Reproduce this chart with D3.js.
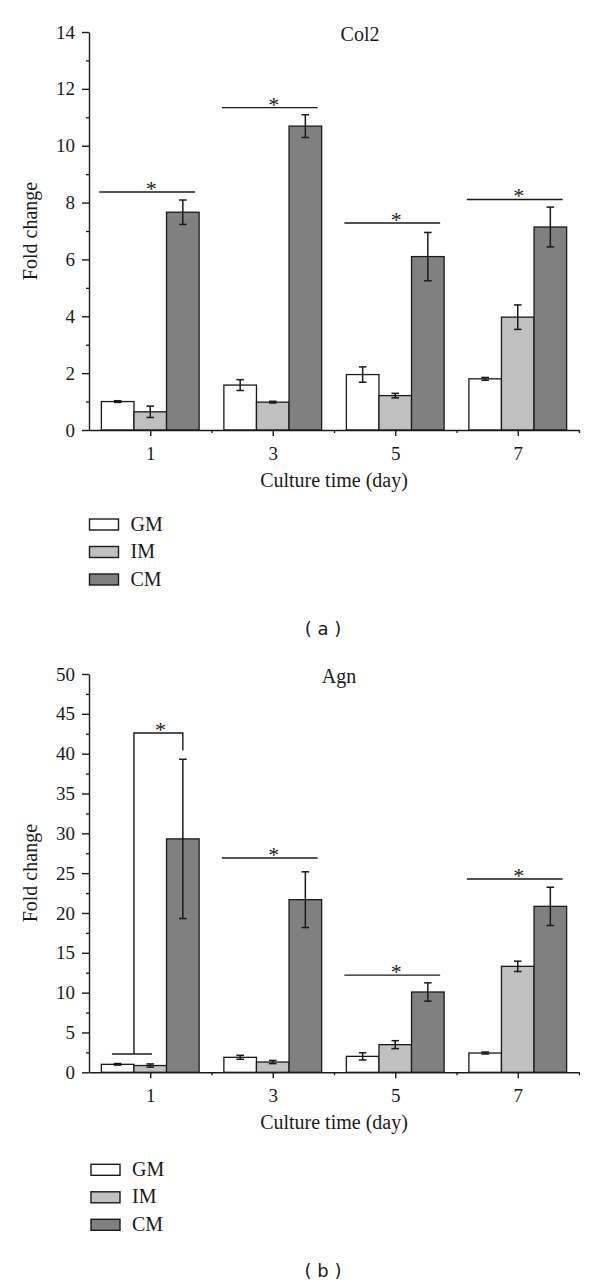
<!DOCTYPE html>
<html>
<head>
<meta charset="utf-8">
<script src="https://cdn.jsdelivr.net/npm/d3@7"></script>
<style>
  html, body { margin: 0; padding: 0; background: #fff; }
  svg { display: block; }
  text { font-family: "Liberation Serif", "Times New Roman", serif; fill: #1a1a1a; }
  text.cap { font-family: "DejaVu Sans", sans-serif; }
</style>
</head>
<body>
<svg id="chart" width="600" height="1286"></svg>
<script>
// ---------- DATA ----------
const days = [1, 3, 5, 7];
const seriesNames = ["GM", "IM", "CM"];

// Panel (a) Col2
const col2GM = [1.00, 1.58, 1.95, 1.80];
const col2GMErr = [0.03, 0.19, 0.27, 0.05];
const col2IM = [0.64, 0.98, 1.21, 3.97];
const col2IMErr = [0.20, 0.03, 0.08, 0.43];
const col2CM = [7.66, 10.69, 6.10, 7.14];
const col2CMErr = [0.43, 0.40, 0.85, 0.70];
const col2Sig = [8.37, 11.34, 7.28, 8.11];
const col2Ticks = [0, 2, 4, 6, 8, 10, 12, 14];
const col2Minor = [1, 3, 5, 7, 9, 11, 13];

// Panel (b) Agn
const agnGM = [1.00, 1.88, 2.00, 2.42];
const agnGMErr = [0.10, 0.25, 0.45, 0.12];
const agnIM = [0.85, 1.29, 3.47, 13.30];
const agnIMErr = [0.20, 0.20, 0.50, 0.65];
const agnCM = [29.30, 21.67, 10.08, 20.83];
const agnCMErr = [10.00, 3.50, 1.15, 2.40];
const agnSig = [42.6, 26.9, 12.2, 24.27];
const agnBracketLow = 2.3;   // lower arm of the day-1 bracket
const agnBracketDrop = 40.4; // right arm end of the day-1 bracket
const agnTicks = [0, 5, 10, 15, 20, 25, 30, 35, 40, 45, 50];
const agnMinor = [2.5, 7.5, 12.5, 17.5, 22.5, 27.5, 32.5, 37.5, 42.5, 47.5];

const xMajor = [1, 3, 5, 7];
const xMinor = [2, 4, 6, 8];

// ---------- STYLE ----------
const fills = { GM: "#ffffff", IM: "#c0c0c0", CM: "#808080" };
const ink = "#1a1a1a";
const fs = 19;

const svg = d3.select("#chart");

function star(g, cx, ly) {
  g.append("text").attr("x", cx).attr("y", ly + 4)
    .attr("text-anchor", "middle").attr("font-size", 22).text("*");
}

function panel(cfg) {
  const g = svg.append("g");
  const x = d3.scaleLinear().domain([0, 8]).range([89, 579]);
  const y = d3.scaleLinear().domain([0, cfg.max]).range([cfg.y0, cfg.y1]);
  const bw = x(0.532) - x(0);

  // bars
  const vals = [cfg.gm, cfg.im, cfg.cm];
  const errs = [cfg.gmE, cfg.imE, cfg.cmE];
  seriesNames.forEach((s, si) => {
    const data = days.map((d, i) => ({ d, v: vals[si][i], e: errs[si][i] }));
    const left = d => x(d.d) + (si - 1.5) * bw;
    g.selectAll(null).data(data).enter().append("rect")
      .attr("x", left).attr("width", bw)
      .attr("y", d => y(d.v)).attr("height", d => y(0) - y(d.v))
      .attr("fill", fills[s]).attr("stroke", ink).attr("stroke-width", 1.3);
    // error bars
    const cx = d => left(d) + bw / 2;
    const eg = g.selectAll(null).data(data).enter().append("g")
      .attr("stroke", ink).attr("stroke-width", 1.5);
    eg.append("line").attr("x1", cx).attr("x2", cx)
      .attr("y1", d => y(d.v + d.e)).attr("y2", d => y(d.v - d.e));
    eg.append("line").attr("x1", d => cx(d) - 3.8).attr("x2", d => cx(d) + 3.8)
      .attr("y1", d => y(d.v + d.e)).attr("y2", d => y(d.v + d.e));
    eg.append("line").attr("x1", d => cx(d) - 3.8).attr("x2", d => cx(d) + 3.8)
      .attr("y1", d => y(d.v - d.e)).attr("y2", d => y(d.v - d.e));
  });

  // significance lines
  days.forEach((d, i) => {
    const gl = x(d) - 1.5 * bw, gr = x(d) + 1.5 * bw;
    if (cfg.bracket && i === 0) {
      const lx = x(d) - 0.5 * bw;      // between GM and IM
      const rx = x(d) + bw;            // CM centre
      const path = d3.path();
      path.moveTo(rx, y(cfg.bracketDrop));
      path.lineTo(rx, y(cfg.sig[i]));
      path.lineTo(lx, y(cfg.sig[i]));
      path.lineTo(lx, y(cfg.bracketLow));
      g.append("path").attr("d", path.toString()).attr("fill", "none")
        .attr("stroke", ink).attr("stroke-width", 1.4);
      g.append("line").attr("x1", lx - 22).attr("x2", lx + 18)
        .attr("y1", y(cfg.bracketLow)).attr("y2", y(cfg.bracketLow))
        .attr("stroke", ink).attr("stroke-width", 1.4);
      star(g, (lx + rx) / 2 + 2, y(cfg.sig[i]));
    } else {
      g.append("line").attr("x1", gl - 2).attr("x2", gr - 4)
        .attr("y1", y(cfg.sig[i])).attr("y2", y(cfg.sig[i]))
        .attr("stroke", ink).attr("stroke-width", 1.4);
      star(g, (gl + gr) / 2 + 1, y(cfg.sig[i]));
    }
  });

  // y axis
  const ya = g.append("g").attr("transform", `translate(${x(0)},0)`)
    .call(d3.axisLeft(y).tickValues(cfg.ticks).tickSize(7).tickSizeOuter(0).tickPadding(7)
      .tickFormat(d3.format("d")));
  ya.select(".domain").attr("stroke", ink).attr("stroke-width", 1.4);
  ya.selectAll(".tick line").attr("stroke", ink).attr("stroke-width", 1.4);
  ya.selectAll(".tick text").attr("font-size", fs).attr("fill", ink);
  g.append("g").attr("transform", `translate(${x(0)},0)`)
    .call(d3.axisLeft(y).tickValues(cfg.minor).tickSize(3).tickFormat(""))
    .call(a => a.select(".domain").remove())
    .selectAll(".tick line").attr("stroke", ink).attr("stroke-width", 1.3);

  // x axis
  const xa = g.append("g").attr("transform", `translate(0,${y(0)})`)
    .call(d3.axisBottom(x).tickValues(xMajor).tickSize(6).tickSizeOuter(0)
      .tickFormat(d3.format("d")));
  xa.select(".domain").attr("stroke", ink).attr("stroke-width", 1.4);
  xa.selectAll(".tick line").attr("stroke", ink).attr("stroke-width", 1.4);
  xa.selectAll(".tick text").attr("font-size", fs)
    .attr("fill", ink).attr("y", 30).attr("dy", null);
  g.append("g").attr("transform", `translate(0,${y(0)})`)
    .call(d3.axisBottom(x).tickValues(xMinor).tickSize(3).tickFormat(""))
    .call(a => a.select(".domain").remove())
    .selectAll(".tick line").attr("stroke", ink).attr("stroke-width", 1.3);

  // titles & labels
  g.append("text").attr("x", cfg.titleX).attr("y", cfg.y1 + 9)
    .attr("text-anchor", "middle").attr("font-size", 20).text(cfg.title);
  g.append("text").attr("transform", `translate(37,${(cfg.y0 + cfg.y1) / 2}) rotate(-90)`)
    .attr("text-anchor", "middle").attr("font-size", 20).text("Fold change");
  g.append("text").attr("x", 334).attr("y", y(0) + 57)
    .attr("text-anchor", "middle").attr("font-size", 20).text("Culture time (day)");

  // legend
  seriesNames.forEach((s, si) => {
    const ly = y(0) + cfg.legOff + si * 27.5;
    g.append("rect").attr("x", cfg.legX).attr("y", ly).attr("width", 29).attr("height", 11)
      .attr("fill", fills[s]).attr("stroke", ink).attr("stroke-width", 1.4);
    g.append("text").attr("x", cfg.legX + 41).attr("y", ly + 11.5)
      .attr("font-size", 20).text(s);
  });

  g.append("text").attr("class", "cap").attr("x", 323).attr("y", cfg.capY)
    .attr("text-anchor", "middle").attr("font-size", 18).text(cfg.cap);
}

panel({ max: 14, y0: 430, y1: 32, gm: col2GM, gmE: col2GMErr, im: col2IM, imE: col2IMErr,
  cm: col2CM, cmE: col2CMErr, sig: col2Sig, ticks: col2Ticks, minor: col2Minor,
  title: "Col2", titleX: 360, legX: 89.5, legOff: 89, cap: "( a )", capY: 635 });

panel({ max: 50, y0: 1072.3, y1: 674, gm: agnGM, gmE: agnGMErr, im: agnIM, imE: agnIMErr,
  cm: agnCM, cmE: agnCMErr, sig: agnSig, ticks: agnTicks, minor: agnMinor,
  bracket: true, bracketLow: agnBracketLow, bracketDrop: agnBracketDrop,
  title: "Agn", titleX: 339, legX: 91, legOff: 92, cap: "( b )", capY: 1277 });
</script>
</body>
</html>
